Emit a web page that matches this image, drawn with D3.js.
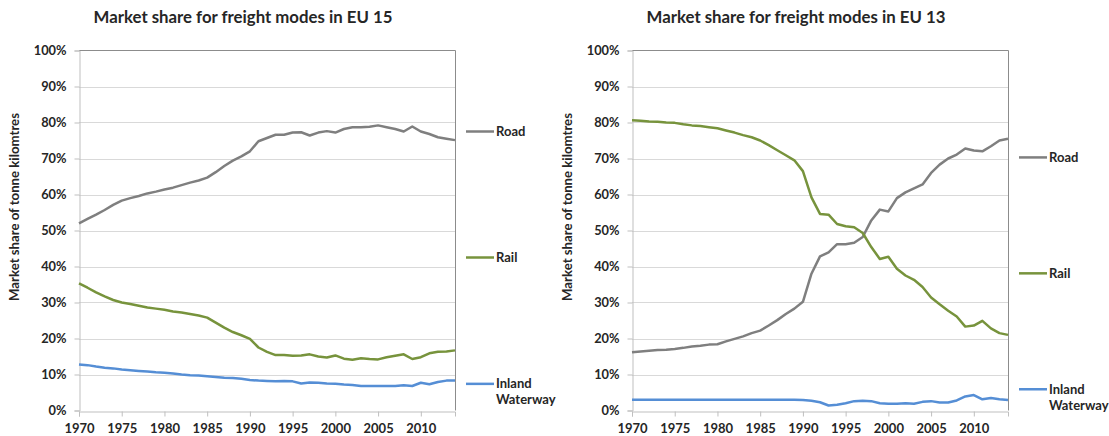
<!DOCTYPE html>
<html>
<head>
<meta charset="utf-8">
<script src="https://cdn.jsdelivr.net/npm/d3@7"></script>
<style>
  body { margin: 0; background: #fff; }
  text { font-family: Lato, "Open Sans", sans-serif; fill: #262626; }
</style>
</head>
<body>
<div id="chart"></div>
<script>
// years shared by both panels
var years = d3.range(1970, 2015);
var xTicks = [1970, 1975, 1980, 1985, 1990, 1995, 2000, 2005, 2010];
var yTicks = [0, 10, 20, 30, 40, 50, 60, 70, 80, 90, 100];

// EU 15 market shares (%)
var eu15Road = [52.0, 53.2, 54.4, 55.7, 57.1, 58.3, 59.0, 59.6, 60.3, 60.8,
  61.4, 61.9, 62.6, 63.3, 63.9, 64.7, 66.2, 67.9, 69.4, 70.6,
  72.0, 74.8, 75.7, 76.6, 76.6, 77.2, 77.3, 76.4, 77.2, 77.6,
  77.2, 78.2, 78.7, 78.7, 78.8, 79.2, 78.7, 78.2, 77.5, 78.9,
  77.5, 76.8, 75.9, 75.5, 75.1];
var eu15Rail = [35.3, 34.1, 32.8, 31.7, 30.7, 30.0, 29.6, 29.1, 28.6, 28.3,
  28.0, 27.5, 27.2, 26.8, 26.4, 25.8, 24.4, 23.0, 21.8, 20.9,
  19.9, 17.5, 16.3, 15.4, 15.4, 15.2, 15.3, 15.6, 15.0, 14.7,
  15.3, 14.4, 14.1, 14.5, 14.3, 14.2, 14.8, 15.2, 15.6, 14.3,
  14.8, 15.9, 16.3, 16.4, 16.7];
var eu15Inland = [12.8, 12.6, 12.2, 11.9, 11.7, 11.4, 11.2, 11.0, 10.8, 10.6,
  10.5, 10.3, 10.0, 9.8, 9.7, 9.5, 9.3, 9.1, 9.0, 8.8,
  8.5, 8.3, 8.2, 8.1, 8.2, 8.1, 7.5, 7.8, 7.7, 7.5,
  7.4, 7.2, 7.1, 6.8, 6.8, 6.8, 6.8, 6.8, 7.0, 6.8,
  7.7, 7.3, 7.9, 8.3, 8.3];

// EU 13 market shares (%)
var eu13Road = [16.2, 16.4, 16.6, 16.8, 16.9, 17.1, 17.4, 17.8, 18.0, 18.3,
  18.4, 19.2, 19.9, 20.6, 21.5, 22.2, 23.6, 25.1, 26.8, 28.3,
  30.2, 38.0, 42.8, 43.9, 46.2, 46.2, 46.6, 48.2, 52.8, 55.8,
  55.3, 59.0, 60.6, 61.7, 62.8, 66.0, 68.3, 70.0, 71.1, 72.8,
  72.2, 72.0, 73.4, 75.0, 75.5];
var eu13Rail = [80.6, 80.5, 80.3, 80.2, 80.0, 79.9, 79.5, 79.2, 79.0, 78.7,
  78.4, 77.8, 77.2, 76.5, 75.9, 75.0, 73.7, 72.3, 70.9, 69.5,
  66.5, 59.2, 54.6, 54.4, 51.8, 51.2, 50.9, 49.3, 45.4, 42.1,
  42.7, 39.4, 37.5, 36.3, 34.3, 31.4, 29.5, 27.7, 26.1, 23.3,
  23.6, 24.9, 22.8, 21.5, 21.0];
var eu13Inland = [3.0, 3.0, 3.0, 3.0, 3.0, 3.0, 3.0, 3.0, 3.0, 3.0,
  3.0, 3.0, 3.0, 3.0, 3.0, 3.0, 3.0, 3.0, 3.0, 3.0,
  2.9, 2.7, 2.3, 1.4, 1.6, 2.0, 2.6, 2.7, 2.6, 2.0,
  1.9, 1.9, 2.0, 1.9, 2.4, 2.6, 2.2, 2.2, 2.8, 3.9,
  4.3, 3.1, 3.5, 3.1, 2.9];

var modeNames = [["Road"], ["Rail"], ["Inland", "Waterway"]];
var modeColors = ["#7f7f7f", "#77933c", "#558ed5"];

var panels = [
  { title: "Market share for freight modes in EU 15", left: 79,
    series: [eu15Road, eu15Rail, eu15Inland], legendAt: [77.5, 42.5, 7.4] },
  { title: "Market share for freight modes in EU 13", left: 632,
    series: [eu13Road, eu13Rail, eu13Inland], legendAt: [70.3, 38.1, 5.9] }
];

var W = 1109, H = 436;
var plotW = 376, plotTop = 50.5, plotBottom = 410.5;

var svg = d3.select("#chart").append("svg")
  .attr("width", W).attr("height", H);

panels.forEach(function(p) {
  var x = d3.scaleLinear().domain([1970, 2014]).range([p.left, p.left + plotW]);
  var y = d3.scaleLinear().domain([0, 100]).range([plotBottom, plotTop]);
  var g = svg.append("g");

  // title
  g.append("text")
    .attr("x", p.left + plotW / 2 - 24)
    .attr("y", 23)
    .attr("text-anchor", "middle")
    .style("font-size", "16.8px")
    .style("font-weight", "bold")
    .text(p.title);

  // y axis title
  g.append("text")
    .attr("transform", "translate(" + (p.left - 60) + ",207) rotate(-90)")
    .attr("text-anchor", "middle")
    .style("font-size", "13.2px")
    .style("font-weight", "bold")
    .text("Market share of tonne kilomtres");

  // gridlines
  g.selectAll(".grid")
    .data(yTicks.slice(1, -1))
    .enter().append("line")
    .attr("x1", x(1970)).attr("x2", x(2014))
    .attr("y1", function(d) { return Math.round(y(d)) + 0.5; })
    .attr("y2", function(d) { return Math.round(y(d)) + 0.5; })
    .style("stroke", "#d9d9d9");

  // plot border top + right
  g.append("path")
    .attr("d", "M" + x(1970) + "," + y(100) + "H" + (Math.round(x(2014)) + 0.5) + "V" + y(0))
    .style("fill", "none")
    .style("stroke", "#8c8c8c");

  // y axis
  var yAxis = g.append("g")
    .attr("transform", "translate(" + (Math.round(x(1970)) + 0.5) + ",0)")
    .call(d3.axisLeft(y).tickValues(yTicks).tickSize(5).tickPadding(8)
      .tickFormat(function(d) { return d + "%"; }));
  yAxis.selectAll("text").style("font-size", "12.8px").style("font-weight", "bold")
    .style("fill", "#262626");

  // x axis
  var xAxis = g.append("g")
    .attr("transform", "translate(0," + (Math.round(y(0)) + 0.5) + ")")
    .call(d3.axisBottom(x).tickValues(xTicks).tickSize(5).tickPadding(7)
      .tickFormat(d3.format("d")));
  xAxis.selectAll("text").style("font-size", "13px").style("font-weight", "bold")
    .style("fill", "#262626");

  [yAxis, xAxis].forEach(function(a) {
    a.select(".domain").style("stroke", "#bfbfbf");
    a.selectAll(".tick line").style("stroke", "#bfbfbf");
  });

  // lines
  var line = d3.line()
    .x(function(d, i) { return x(years[i]); })
    .y(function(d) { return y(d); });

  p.series.forEach(function(s, k) {
    g.append("path")
      .datum(s)
      .attr("d", line)
      .style("fill", "none")
      .style("stroke", modeColors[k])
      .style("stroke-width", 2.5)
      .style("stroke-linejoin", "round");
  });

  // legend beside the plot
  p.legendAt.forEach(function(v, k) {
    var ly = y(v);
    g.append("line")
      .attr("x1", x(2014) + 11).attr("x2", x(2014) + 39)
      .attr("y1", ly).attr("y2", ly)
      .style("stroke", modeColors[k])
      .style("stroke-width", 2.5);
    var t = g.append("text")
      .attr("x", x(2014) + 41)
      .attr("y", ly + 4.5)
      .style("font-size", "13px")
      .style("font-weight", "bold");
    modeNames[k].forEach(function(n, j) {
      t.append("tspan")
        .attr("x", x(2014) + 41)
        .attr("dy", j === 0 ? 0 : 16)
        .text(n);
    });
  });
});
</script>
</body>
</html>
